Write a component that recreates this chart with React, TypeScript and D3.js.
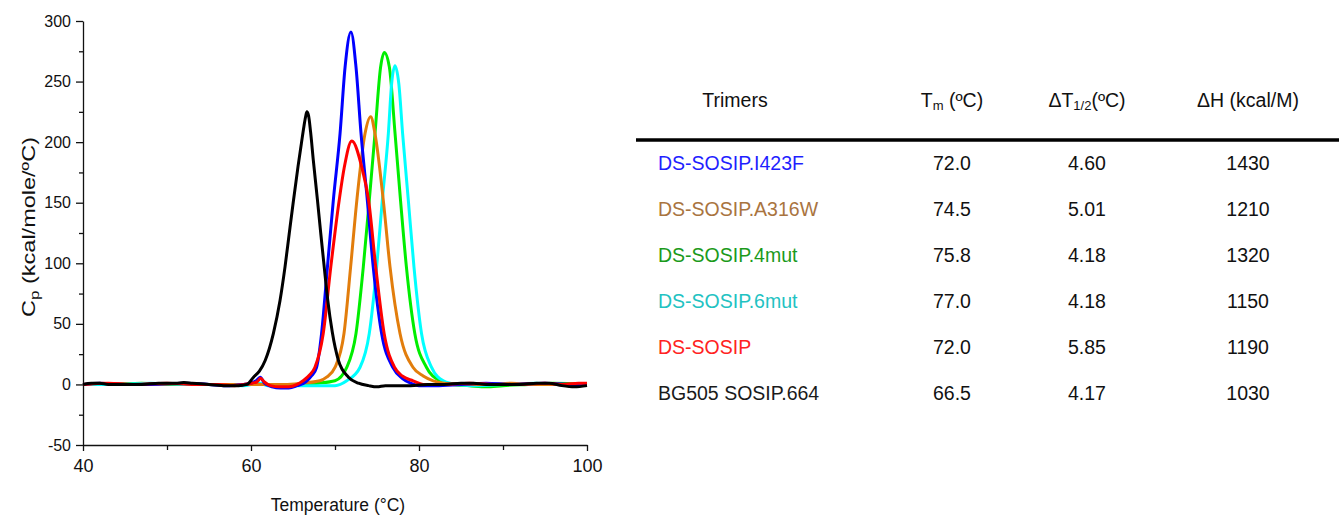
import React, { useEffect, useRef } from 'react'
import * as d3 from 'd3'

const width = 1339
const height = 517
const plot = { left: 83, right: 587, top: 21, bottom: 445 }
const font = '"Liberation Sans", Arial, sans-serif'

// table
const trimers = ['DS-SOSIP.I423F', 'DS-SOSIP.A316W', 'DS-SOSIP.4mut', 'DS-SOSIP.6mut', 'DS-SOSIP', 'BG505 SOSIP.664']
const tmValues = ['72.0', '74.5', '75.8', '77.0', '72.0', '66.5']
const dtHalfValues = ['4.60', '5.01', '4.18', '4.18', '5.85', '4.17']
const dhValues = ['1430', '1210', '1320', '1150', '1190', '1030']

// axis ticks
const xTicks = [40, 60, 80, 100]
const xMinorTicks = [50, 70, 90]
const yTicks = [-50, 0, 50, 100, 150, 200, 250, 300]
const yMinorTicks = [-25, 25, 75, 125, 175, 225, 275]

// DSC traces, [temperature, Cp]
const i423f: [number, number][] = [
  [40, 0], [42, 1], [45, 0], [48, 0], [52, 1], [55, 0], [57, -1], [59, 0], [60, 1], [60.6, 3], [61.1, 6], [61.6, 1],
  [62.5, -2], [63.5, -3], [64.5, -3], [65.5, -1], [66.5, 2], [67.2, 7], [67.8, 14], [68.4, 42], [69.1, 97],
  [69.8, 152], [70.6, 207], [71.2, 262], [71.9, 291], [72.5, 262], [73.1, 207], [73.85, 152], [74.55, 97],
  [75.55, 42], [76.9, 14], [78, 5], [79, 1], [80, -1], [82, -1], [85, 0], [88, 1], [91, 0], [95, 1], [98, 0], [100, 0],
]
const a316w: [number, number][] = [
  [40, 0], [42, 1], [45, 0], [49, 0], [52, 1], [55, 0], [58, 0], [61, 0], [64, 0], [66, 1], [68.2, 3], [69, 6],
  [70, 14], [71.07, 42], [71.86, 97], [72.6, 152], [73.57, 207], [74.24, 221], [74.76, 207], [75.75, 152],
  [76.55, 97], [77.74, 42], [79.3, 14], [80.5, 7], [81.7, 3], [83, 1], [85, 0], [88, 0], [91, 1], [94, 0], [97, 0], [100, 0],
]
const mut4: [number, number][] = [
  [40, 0], [43, 0], [47, 1], [50, 0], [54, 0], [57, 0], [60, 0], [63, 0], [66, 0], [68, 1], [70, 3], [71.4, 14],
  [72.5, 42], [73.37, 97], [74.08, 152], [74.76, 207], [75.43, 262], [75.87, 274], [76.47, 262], [77.15, 207],
  [77.8, 152], [78.5, 97], [79.5, 42], [80.9, 14], [82.5, 3], [84, 0], [86, -1], [88, -2], [90, -1], [93, 0], [96, 1], [100, 0],
]
const mut6: [number, number][] = [
  [40, 0], [44, 0], [48, 1], [52, 0], [56, 0], [59, -1], [61, 1], [62, -1], [65, -1], [68, -1], [70, -1], [71.4, 3],
  [72.97, 14], [74.08, 42], [74.96, 97], [75.63, 152], [76.35, 207], [76.74, 248], [77.14, 263], [77.6, 248],
  [78.05, 207], [78.73, 152], [79.4, 97], [80.3, 42], [81.5, 14], [82.9, 3], [84.5, 0], [87, -1], [90, 0], [94, 1], [97, 0], [100, 0],
]
const dsSosip: [number, number][] = [
  [40, 0], [43, 1], [46, 0], [50, 1], [53, 0], [56, 0], [58, -1], [60, 1], [60.7, 2], [61.15, 5], [61.6, 2],
  [62.3, -1], [63.5, -2], [64.5, -2], [65.5, 0], [66.2, 3], [67, 8], [67.6, 14], [68.6, 42], [69.5, 97],
  [70.5, 152], [71.1, 179], [72, 201], [73.2, 179], [74, 152], [74.85, 97], [75.85, 42], [77.1, 14], [78, 7],
  [79.3, 3], [80.5, 0], [83, 0], [86, 1], [89, 0], [92, 0], [95, 1], [97, 0], [99, 1], [100, 1],
]
const bg505: [number, number][] = [
  [40, 0], [41, 1], [42, 1], [43, 0], [45, 0], [47, 0], [49, 1], [51, 1], [52, 1.5], [53, 1], [55, 0], [57, -1],
  [58.5, -1], [59.5, 0], [60.3, 6], [61, 11], [61.7, 20], [62.66, 42], [63.45, 69], [64.05, 97], [64.56, 125],
  [65.04, 151], [65.6, 180], [66, 199], [66.3, 213], [66.5, 221], [66.65, 225], [66.85, 222], [67.1, 208],
  [67.42, 185], [67.9, 153], [68.3, 125], [68.73, 96], [69.13, 70], [69.68, 43], [70.4, 20], [71.6, 6], [72.8, 1],
  [74, -1], [75, -2], [76, -1], [77.5, -1], [79, -1], [81, 0], [83, 0], [85, 1], [86.5, 1], [88, 0], [90, 0],
  [92, 0], [94, 1], [95.5, 1], [97, -1], [98.5, -2], [100, -1],
]

// draw order: last on top
const traces = [
  { data: mut4, color: '#00ee00' },
  { data: mut6, color: '#00ffff' },
  { data: a316w, color: '#e27d0c' },
  { data: i423f, color: '#0000ff' },
  { data: dsSosip, color: '#ff0000' },
  { data: bg505, color: '#000000' },
]

const nameColors = ['#1f1fff', '#a9743f', '#1b9a1b', '#22c2c2', '#ff2222', '#1a1a1a']

function App() {
  const ref = useRef<SVGSVGElement>(null)

  useEffect(() => {
    const svg = d3.select(ref.current)
    svg.selectAll('*').remove()

    const x = d3.scaleLinear().domain([40, 100]).range([plot.left, plot.right])
    const y = d3.scaleLinear().domain([-50, 300]).range([plot.bottom, plot.top])
    const fmt = (d: d3.NumberValue) => String(d)

    // axes
    const gx = svg.append('g').attr('transform', `translate(0,${plot.bottom})`)
    gx.call(d3.axisBottom(x).tickValues(xTicks).tickSize(6).tickSizeOuter(0).tickPadding(8).tickFormat(fmt))
    gx.append('g').call(d3.axisBottom(x).tickValues(xMinorTicks).tickSize(5).tickFormat(() => ''))
      .select('.domain').remove()
    gx.selectAll('.tick text').attr('font-size', 18)

    const gy = svg.append('g').attr('transform', `translate(${plot.left},0)`)
    gy.call(d3.axisLeft(y).tickValues(yTicks).tickSize(7).tickSizeOuter(0).tickPadding(5).tickFormat(fmt))
    gy.append('g').call(d3.axisLeft(y).tickValues(yMinorTicks).tickSize(4).tickFormat(() => ''))
      .select('.domain').remove()
    gy.selectAll('.tick text').attr('font-size', 16)

    svg.selectAll('.domain, .tick line').attr('stroke', '#111').attr('stroke-width', 1.3)
    svg.selectAll('.tick text').attr('font-family', font).attr('fill', '#111')

    // traces
    const line = d3.line<[number, number]>()
      .x((d) => x(d[0]))
      .y((d) => y(d[1]))
      .curve(d3.curveMonotoneX)

    svg.append('g')
      .selectAll('path')
      .data(traces)
      .enter()
      .append('path')
      .attr('fill', 'none')
      .attr('stroke', (d) => d.color)
      .attr('stroke-width', 3)
      .attr('stroke-linejoin', 'round')
      .attr('d', (d) => line(d.data))

    // axis titles
    svg.append('text')
      .attr('x', 338)
      .attr('y', 511)
      .attr('text-anchor', 'middle')
      .attr('font-family', font)
      .attr('font-size', 17.5)
      .attr('fill', '#111')
      .text('Temperature (°C)')

    const yl = svg.append('text')
      .attr('transform', `translate(35,227) rotate(-90)`)
      .attr('text-anchor', 'middle')
      .attr('font-family', font)
      .attr('font-size', 18)
      .attr('fill', '#111')
      .attr('textLength', 180)
      .attr('lengthAdjust', 'spacingAndGlyphs')
    yl.append('tspan').text('C')
    yl.append('tspan').attr('font-size', 13).attr('dy', 4).text('p')
    yl.append('tspan').attr('dy', -4).text(' (kcal/mole/ºC)')

    // table
    const table = svg.append('g').attr('font-family', font).attr('font-size', 19.5).attr('fill', '#111')
    const cols = { name: 658, tm: 952, dt: 1087, dh: 1248 }
    const headerY = 107

    table.append('text').attr('x', 735).attr('y', headerY).attr('text-anchor', 'middle').text('Trimers')

    const th1 = table.append('text').attr('x', cols.tm).attr('y', headerY).attr('text-anchor', 'middle')
    th1.append('tspan').text('T')
    th1.append('tspan').attr('font-size', 13).attr('dy', 3).text('m')
    th1.append('tspan').attr('dy', -3).text(' (ºC)')

    const th2 = table.append('text').attr('x', cols.dt).attr('y', headerY).attr('text-anchor', 'middle')
    th2.append('tspan').text('ΔT')
    th2.append('tspan').attr('font-size', 13).attr('dy', 3).text('1/2')
    th2.append('tspan').attr('dy', -3).text('(ºC)')

    table.append('text').attr('x', cols.dh).attr('y', headerY).attr('text-anchor', 'middle').text('ΔH (kcal/M)')

    table.append('line')
      .attr('x1', 636).attr('x2', width).attr('y1', 140).attr('y2', 140)
      .attr('stroke', '#000').attr('stroke-width', 3.5)

    const rowY = d3.scalePoint<number>().domain(d3.range(trimers.length)).range([170, 400])

    const rows = table.selectAll('g.row')
      .data(trimers)
      .enter()
      .append('g')
      .attr('class', 'row')
      .attr('transform', (_, i) => `translate(0,${rowY(i)})`)

    rows.append('text').attr('x', cols.name).attr('fill', (_, i) => nameColors[i]).text((d) => d)
    rows.append('text').attr('x', cols.tm).attr('text-anchor', 'middle').text((_, i) => tmValues[i])
    rows.append('text').attr('x', cols.dt).attr('text-anchor', 'middle').text((_, i) => dtHalfValues[i])
    rows.append('text').attr('x', cols.dh).attr('text-anchor', 'middle').text((_, i) => dhValues[i])
  }, [])

  return (
    <svg
      ref={ref}
      width={width}
      height={height}
      style={{ position: 'absolute', left: 0, top: 0, background: '#fff' }}
    />
  )
}

export default App
